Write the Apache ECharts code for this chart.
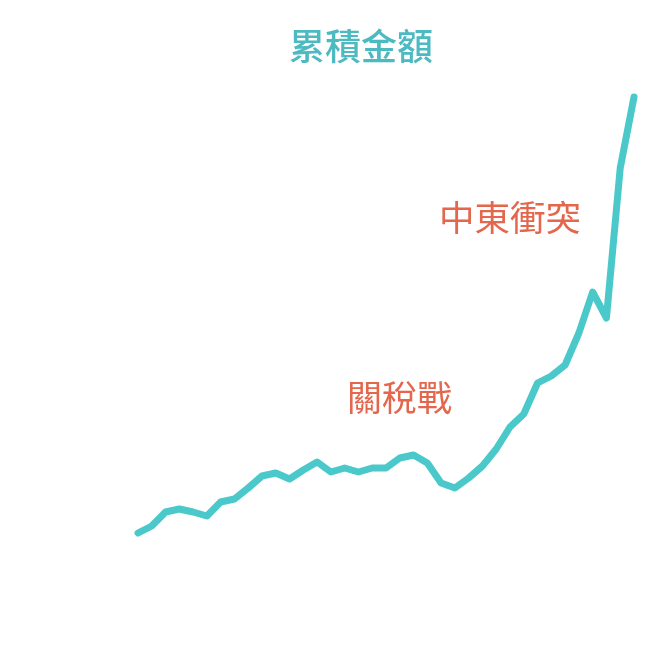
<!DOCTYPE html>
<html>
<head>
<meta charset="utf-8">
<script src="https://cdn.jsdelivr.net/npm/echarts@6/dist/echarts.min.js"></script>
<style>
html,body{margin:0;padding:0;background:#fff;}
#chart{width:649px;height:654px;}
</style>
</head>
<body>
<div id="chart"></div>
<script>
var categories = [];
for (var i = 1; i <= 37; i++) categories.push(String(i));
var cumulative = [33.5, 37, 44, 45.5, 44, 42, 49, 50.5, 56, 62, 63.5, 60.5, 65, 69, 64, 66, 64, 66, 66, 71, 72.5, 68.5, 58.5, 56, 61, 67, 75.5, 86.5, 93, 108.5, 112, 117.5, 133.5, 154, 141, 216, 251.5];
var titleText = '累積金額';
var notes = ['關稅戰', '中東衝突'];

var chart = echarts.init(document.getElementById('chart'));
chart.setOption({
  animation: false,
  backgroundColor: '#ffffff',
  title: {
    text: titleText,
    left: 356, top: 23, textAlign: 'center',
    textStyle: { color: '#4db9c1', fontSize: 36, fontWeight: 500, fontFamily: 'Noto Sans CJK TC' }
  },
  graphic: [
    { type: 'text', left: 347, top: 380, style: { text: notes[0], fill: '#e4674d', fontSize: 35, fontFamily: 'Noto Sans CJK TC' } },
    { type: 'text', left: 439, top: 200, style: { text: notes[1], fill: '#e4674d', fontSize: 35.5, fontFamily: 'Noto Sans CJK TC' } }
  ],
  grid: { left: 138, right: 15, top: 0, bottom: 54, containLabel: false },
  xAxis: { type: 'category', data: categories, boundaryGap: false, show: false },
  yAxis: { type: 'value', min: 0, max: 300, show: false },
  series: [{
    type: 'line',
    data: cumulative,
    showSymbol: false,
    symbol: 'none',
    lineStyle: { color: '#4ac8ca', width: 7, cap: 'round', join: 'round' }
  }]
});
</script>
</body>
</html>
